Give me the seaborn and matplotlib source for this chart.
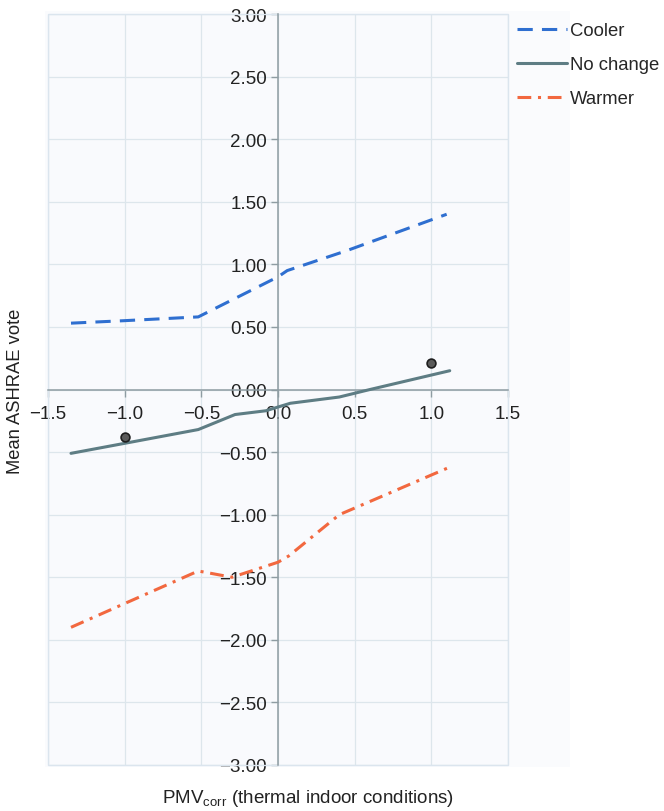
import matplotlib
matplotlib.use("Agg")
import matplotlib.pyplot as plt
from matplotlib.patches import Rectangle
import seaborn as sns
import pandas as pd
import numpy as np

# ---- data ----
cooler_x = [-1.35, -1.0, -0.52, 0.0, 0.06, 0.45, 1.10]
cooler_y = [0.53, 0.55, 0.58, 0.90, 0.95, 1.11, 1.40]

nochange_x = [-1.35, -1.0, -0.52, -0.28, -0.08, 0.08, 0.40, 0.60, 1.12]
nochange_y = [-0.51, -0.43, -0.32, -0.20, -0.17, -0.11, -0.06, 0.00, 0.15]

warmer_x = [-1.35, -1.0, -0.52, -0.30, 0.0, 0.07, 0.40, 1.12]
warmer_y = [-1.90, -1.71, -1.45, -1.50, -1.38, -1.33, -1.00, -0.62]

points_x = [-1.0, 1.0]
points_y = [-0.38, 0.21]

series_names = ["Cooler", "No change", "Warmer"]
x_ticks = [-1.5, -1.0, -0.5, 0.0, 0.5, 1.0, 1.5]
y_ticks = [-3.0, -2.5, -2.0, -1.5, -1.0, -0.5, 0.0, 0.5, 1.0, 1.5, 2.0, 2.5, 3.0]

df = pd.concat([
    pd.DataFrame({"x": cooler_x, "y": cooler_y, "series": "Cooler"}),
    pd.DataFrame({"x": nochange_x, "y": nochange_y, "series": "No change"}),
    pd.DataFrame({"x": warmer_x, "y": warmer_y, "series": "Warmer"}),
], ignore_index=True)
pts = pd.DataFrame({"x": points_x, "y": points_y})

sns.set_style("white")
plt.rcParams["font.family"] = ["Liberation Sans", "DejaVu Sans"]
plt.rcParams["mathtext.fontset"] = "custom"
plt.rcParams["mathtext.rm"] = "Liberation Sans"
plt.rcParams["mathtext.it"] = "Liberation Sans"
plt.rcParams["axes.unicode_minus"] = True

W, H = 664, 812
fig = plt.figure(figsize=(W / 100, H / 100), dpi=100)
fig.patch.set_facecolor("white")

# faint background panel behind the plot and legend strip
fig.patches.append(Rectangle((45 / W, 1 - 768 / H), (570 - 45) / W, (768 - 12) / H,
                             transform=fig.transFigure, facecolor="#fafbfd",
                             edgecolor="none", zorder=-5))

ax = fig.add_axes([48 / W, 1 - 766 / H, (508 - 48) / W, (766 - 15) / H])
ax.set_facecolor("#f9fafd")

palette = {"Cooler": "#2f6fd0", "No change": "#5e7d84", "Warmer": "#f2683f"}
dashes = {"Cooler": (5, 3), "No change": "", "Warmer": (4.5, 2.2, 1, 2.2)}

sns.lineplot(data=df, x="x", y="y", hue="series", style="series",
             hue_order=series_names, style_order=series_names,
             palette=palette, dashes=dashes, linewidth=2.2, sort=False,
             estimator=None, ax=ax, zorder=3)
sns.scatterplot(data=pts, x="x", y="y", ax=ax, s=40, color="#5a5a5a",
                edgecolor="#1e1e1e", linewidth=1.2, zorder=4, legend=False)

ax.set_xlim(-1.5, 1.5)
ax.set_ylim(-3.0, 3.0)
ax.set_xticks(x_ticks)
ax.set_yticks(y_ticks)
ax.set_xticklabels([f"{v:.1f}".replace("-", "\u2212") for v in x_ticks])
ax.set_yticklabels([f"{v:.2f}".replace("-", "\u2212") for v in y_ticks])

ax.grid(True, color="#dde6ec", linewidth=0.9, zorder=0)
ax.set_axisbelow(True)

for s in ["top", "right"]:
    ax.spines[s].set_visible(False)
ax.spines["left"].set_position(("data", 0))
ax.spines["bottom"].set_position(("data", 0))
for s in ["left", "bottom"]:
    ax.spines[s].set_color("#8e9ca2")
    ax.spines[s].set_linewidth(1.1)
ax.tick_params(axis="both", which="major", direction="out", length=5,
               width=1.0, color="#8e9ca2", labelsize=13.5, labelcolor="#222222",
               left=True, bottom=True)
ax.tick_params(axis="y", pad=3)
ax.tick_params(axis="x", pad=6)

# faint frame round the plot area
ax.add_patch(Rectangle((0, 0), 1, 1, transform=ax.transAxes, fill=False,
                       edgecolor="#dbe5ee", linewidth=1.0, zorder=1,
                       clip_on=False))

ax.set_xlabel("")
ax.set_ylabel("")

fig.text(16 / W, 1 - 391 / H, "Mean ASHRAE vote", rotation=90, ha="center",
         va="center", fontsize=13.2, color="#222222")
fig.text(308 / W, 1 - 799 / H, r"PMV$_{\mathrm{corr}}$ (thermal indoor conditions)",
         ha="center", va="center", fontsize=13.5, color="#222222")

handles, labels = ax.get_legend_handles_labels()
ax.legend(handles, labels, loc="upper left",
          bbox_to_anchor=(517 / W, 1 - 23 / H), bbox_transform=fig.transFigure,
          frameon=False, fontsize=13.3, handlelength=2.7, handletextpad=0.15,
          labelspacing=0.92, borderaxespad=0, borderpad=0)

fig.savefig("out.png", dpi=100)
